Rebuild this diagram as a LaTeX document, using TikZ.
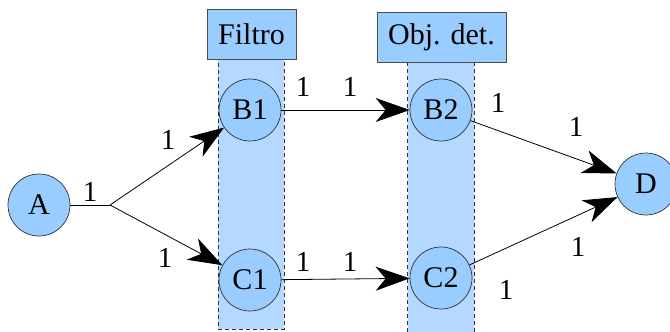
\documentclass[tikz,border=0pt]{standalone}
\usepackage{fontspec}
\setmainfont{Liberation Serif}
\usetikzlibrary{arrows.meta}
\definecolor{nodeblue}{HTML}{99CCFF}
\definecolor{colblue}{HTML}{B4D8FF}
\begin{document}
\begin{tikzpicture}[x=1pt,y=-1pt,
  state/.style={circle,draw=black!80,fill=nodeblue,minimum size=62pt,inner sep=0pt,line width=0.7pt,font=\fontsize{30}{32}\selectfont},
  lbl/.style={font=\fontsize{29}{31}\selectfont,inner sep=0pt},
  hdr/.style={draw=black!70,fill=nodeblue,line width=0.8pt,inner sep=0pt,minimum height=50pt,font=\fontsize{30}{32}\selectfont},
  colbox/.style={fill=colblue,inner sep=0pt},
  dsh/.style={draw=black!80,line width=0.8pt,dash pattern=on 4pt off 3pt},
  arr/.style={-{Stealth[length=34pt,width=24pt,inset=10pt]},line width=0.8pt},
  ln/.style={line width=0.8pt}]
\useasboundingbox (0,0) rectangle (670,332);
% columns
\node[colbox,dsh,minimum width=66pt,minimum height=270pt] (colF) at (251,194) {};
\node[colbox,minimum width=66pt,minimum height=272pt] (colO) at (441,198) {};
\draw[dsh] (colO.north west) -- (colO.south west);
\draw[dsh] (colO.north east) -- (colO.south east);
% headers
\node[hdr,minimum width=89pt] (hF) at (251.5,34) {Filtro};
\node[hdr,minimum width=129pt] (hO) at (441.5,37) {Obj. det.};
% states
\node[state] (A) at (39,205) {A};
\node[state] (B1) at (250,110) {B1};
\node[state] (C1) at (250,280) {C1};
\node[state] (B2) at (441,110) {B2};
\node[state] (C2) at (441,278) {C2};
\node[state] (D) at (646,184) {D};
\coordinate (J) at (110,205);
% edges
\draw[ln] (A) -- (J);
\draw[arr] (J) -- (B1);
\draw[arr] (J) -- (C1);
\draw[arr] (B1) -- (B2);
\draw[arr] (C1) -- (C2);
\draw[arr] (B2) -- (D);
\draw[arr] (C2) -- (D);
% labels
\node[lbl] (l1) at (90,192) {1};
\node[lbl] (l2) at (168,140) {1};
\node[lbl] (l3) at (165,258) {1};
\node[lbl] (l4) at (303,87) {1};
\node[lbl] (l5) at (350,87) {1};
\node[lbl] (l6) at (303,262) {1};
\node[lbl] (l7) at (350,262) {1};
\node[lbl] (l8) at (498,103) {1};
\node[lbl] (l9) at (576,127) {1};
\node[lbl] (l10) at (578,247) {1};
\node[lbl] (l11) at (506,290) {1};
\end{tikzpicture}
\end{document}
